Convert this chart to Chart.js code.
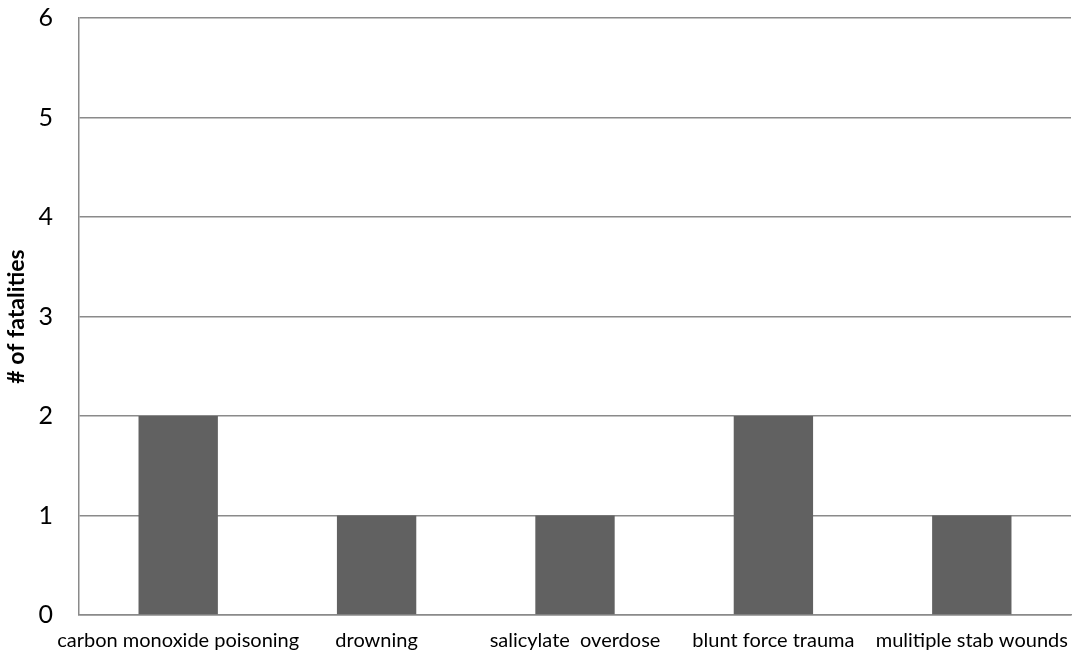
<!DOCTYPE html>
<html>
<head>
<meta charset="utf-8">
<script src="https://cdn.jsdelivr.net/npm/chart.js@4"></script>
<style>
  html, body { margin: 0; padding: 0; background: #ffffff; }
  #wrap { width: 1081px; height: 654px; position: relative; }
</style>
</head>
<body>
<div id="wrap"><canvas id="chart" width="1081" height="654"></canvas></div>
<script>
// Causes of death and the number of fatalities for each
const categories = [
  'carbon monoxide poisoning',
  'drowning',
  'salicylate  overdose',
  'blunt force trauma',
  'mulitiple stab wounds'
];
const fatalities = [2, 1, 1, 2, 1];
const yTicks = [0, 1, 2, 3, 4, 5, 6];

const FONT = 'Lato, "Open Sans", sans-serif';
const GRID = '#8a8a8a';

new Chart(document.getElementById('chart'), {
  type: 'bar',
  data: {
    labels: categories,
    datasets: [{
      label: '# of fatalities',
      data: fatalities,
      backgroundColor: '#616161',
      borderWidth: 0,
      barPercentage: 0.4,
      categoryPercentage: 1.0
    }]
  },
  options: {
    responsive: false,
    animation: false,
    devicePixelRatio: 1,
    layout: { padding: { top: 18, right: 10, left: 0, bottom: 0 } },
    plugins: {
      legend: { display: false },
      tooltip: { enabled: false }
    },
    scales: {
      x: {
        grid: { display: false, drawTicks: false },
        border: { display: true, color: GRID, width: 1.5 },
        ticks: {
          color: '#000000',
          font: { family: FONT, size: 20 },
          padding: 14,
          maxRotation: 0,
          autoSkip: false
        },
        afterFit(scale) {
          scale.height = 39;
          scale.paddingLeft = 0;
          scale.paddingRight = 0;
        }
      },
      y: {
        min: 0,
        max: 6,
        afterBuildTicks(scale) { scale.ticks = yTicks.map(v => ({ value: v })); },
        grid: { color: GRID, lineWidth: 1.5, drawTicks: false },
        border: { display: true, color: GRID, width: 1.5 },
        ticks: {
          color: '#000000',
          font: { family: FONT, size: 25, lineHeight: 1.2 },
          padding: 26
        },
        title: {
          display: true,
          text: '# of fatalities',
          color: '#000000',
          font: { family: FONT, size: 23, weight: 'bold' },
          padding: { top: 3, bottom: 0 }
        },
        afterFit(scale) {
          scale.width = 79;
          scale.paddingTop = 0;
          scale.paddingBottom = 0;
        }
      }
    }
  }
});
</script>
</body>
</html>
